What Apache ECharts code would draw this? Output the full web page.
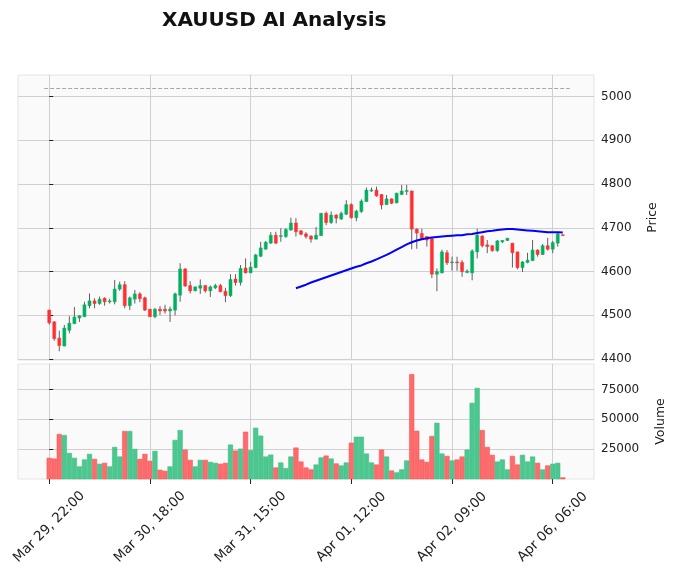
<!DOCTYPE html>
<html>
<head>
<meta charset="utf-8">
<script src="https://cdn.jsdelivr.net/npm/echarts@6/dist/echarts.min.js"></script>
<style>
  html, body { margin: 0; padding: 0; background: #fff; }
  #chart { width: 677px; height: 577px; }
</style>
</head>
<body>
<div id="chart"></div>
<script>
// hourly XAUUSD bars
const opens = [4512, 4485, 4448, 4430, 4466, 4481, 4494, 4497, 4522, 4533,
  4527, 4539, 4531, 4531, 4560, 4570, 4522, 4537, 4549, 4540,
  4514, 4497, 4514, 4514, 4510, 4512, 4546, 4606, 4568, 4556,
  4562, 4568, 4556, 4563, 4568, 4555, 4545, 4583, 4575, 4608,
  4597, 4609, 4635, 4651, 4665, 4683, 4681, 4680, 4695, 4711,
  4693, 4686, 4681, 4674, 4682, 4733, 4712, 4729, 4720, 4731,
  4753, 4723, 4737, 4760, 4784, 4786, 4776, 4753, 4766, 4757,
  4776, 4783, 4784, 4697, 4687, 4680, 4675, 4594, 4597, 4643,
  4621, 4622, 4621, 4598, 4597, 4645, 4681, 4661, 4659, 4648,
  4668, 4671, 4665, 4645, 4609, 4621, 4625, 4649, 4639, 4659,
  4651, 4665, 4684];
const closes = [4483, 4447, 4431, 4471, 4482, 4496, 4499, 4524, 4533, 4527,
  4537, 4531, 4533, 4560, 4570, 4522, 4540, 4549, 4538, 4512,
  4497, 4514, 4510, 4510, 4514, 4549, 4606, 4567, 4556, 4565,
  4568, 4556, 4565, 4568, 4554, 4545, 4582, 4575, 4607, 4597,
  4610, 4638, 4654, 4667, 4683, 4665, 4682, 4696, 4711, 4691,
  4685, 4680, 4674, 4683, 4733, 4712, 4729, 4722, 4733, 4753,
  4723, 4738, 4761, 4786, 4786, 4773, 4752, 4766, 4756, 4779,
  4784, 4785, 4697, 4688, 4675, 4672, 4594, 4600, 4645, 4620,
  4622, 4620, 4600, 4601, 4647, 4683, 4659, 4657, 4648, 4670,
  4671, 4676, 4643, 4609, 4622, 4626, 4649, 4639, 4659, 4651,
  4666, 4686, 4683];
const lows = [4479, 4442, 4418, 4429, 4459, 4480, 4485, 4496, 4516, 4516,
  4524, 4522, 4527, 4525, 4556, 4516, 4512, 4527, 4530, 4510,
  4497, 4493, 4501, 4504, 4485, 4500, 4531, 4565, 4550, 4555,
  4549, 4552, 4542, 4560, 4553, 4530, 4542, 4568, 4568, 4596,
  4597, 4608, 4633, 4651, 4663, 4663, 4668, 4677, 4693, 4680,
  4683, 4675, 4666, 4674, 4681, 4706, 4709, 4710, 4718, 4729,
  4721, 4715, 4734, 4759, 4782, 4771, 4742, 4752, 4754, 4756,
  4775, 4775, 4651, 4652, 4674, 4657, 4585, 4555, 4596, 4615,
  4602, 4602, 4588, 4596, 4580, 4630, 4655, 4642, 4645, 4645,
  4665, 4670, 4609, 4605, 4599, 4619, 4624, 4634, 4638, 4648,
  4642, 4657, 4681];
const highs = [4513, 4487, 4465, 4478, 4498, 4519, 4500, 4531, 4550, 4539,
  4543, 4541, 4538, 4581, 4577, 4578, 4543, 4558, 4553, 4543,
  4514, 4517, 4521, 4524, 4520, 4552, 4619, 4608, 4578, 4566,
  4582, 4569, 4568, 4572, 4572, 4563, 4594, 4594, 4615, 4630,
  4622, 4640, 4668, 4670, 4690, 4691, 4699, 4699, 4723, 4722,
  4695, 4690, 4683, 4702, 4734, 4737, 4737, 4731, 4737, 4763,
  4756, 4741, 4765, 4792, 4792, 4794, 4777, 4775, 4767, 4780,
  4798, 4798, 4785, 4699, 4698, 4681, 4677, 4607, 4650, 4649,
  4634, 4634, 4626, 4605, 4651, 4698, 4683, 4672, 4660, 4672,
  4672, 4677, 4665, 4645, 4624, 4643, 4672, 4651, 4663, 4677,
  4670, 4690, 4685];
const volumes = [17500, 16900, 37500, 36600, 21600, 17500, 10300, 16100, 20800, 16600,
  12500, 13300, 10300, 26600, 18600, 40000, 40000, 25000, 16600, 20800,
  15000, 23300, 7500, 6600, 10300, 32500, 40800, 24400, 15800, 10300,
  15800, 15800, 14100, 13300, 12500, 13300, 28600, 23600, 25200, 39400,
  23900, 42700, 36100, 18600, 20200, 9400, 13600, 8900, 18600, 26100,
  14400, 9400, 7800, 11900, 17800, 19400, 16900, 12800, 11100, 13600,
  30200, 35200, 35200, 21100, 13600, 11900, 24400, 18600, 6900, 5300,
  7800, 15300, 87700, 40200, 16100, 14100, 35800, 46900, 21100, 19100,
  15300, 16100, 18600, 24400, 63600, 76100, 40800, 26600, 20000, 14400,
  16100, 7800, 19100, 11900, 20000, 14400, 18600, 13300, 7800, 11100,
  12500, 13300, 1100];

// moving average (blue), first value sits on bar 49
const maStart = 49;
const maValues = [4562, 4566, 4570, 4575, 4579, 4583, 4587, 4591, 4595, 4599,
  4603, 4607, 4611, 4614, 4619, 4623, 4628, 4633, 4638, 4644,
  4650, 4656, 4662, 4667, 4671, 4674, 4676, 4678, 4679, 4680,
  4681, 4682, 4683, 4683, 4685, 4686, 4688, 4690, 4692, 4693,
  4695, 4696, 4697, 4697, 4696, 4695, 4694, 4693, 4692, 4691,
  4690, 4690, 4690, 4689];

const refLevel = 5018;

const tickIndex = [0, 20, 40, 60, 80, 100];
const tickLabels = ['Mar 29, 22:00', 'Mar 30, 18:00', 'Mar 31, 15:00',
  'Apr 01, 12:00', 'Apr 02, 09:00', 'Apr 06, 06:00'];
const priceTicks = [4400, 4500, 4600, 4700, 4800, 4900, 5000];
const volumeTicks = [25000, 50000, 75000];

const UP = '#00b060';
const DOWN = '#fe3032';
const WICK = '#606060';
const VOL_UP = '#4dc790';
const VOL_DOWN = '#fd6b6c';
const FONT = 'DejaVu Sans';

const n = opens.length;
const candleData = opens.map((o, i) => [i, o, closes[i], lows[i], highs[i]]);
const volData = volumes.map((v, i) => [i, v, closes[i] >= opens[i] ? 1 : 0]);
const maData = maValues.map((v, i) => [maStart + i, v]);

function renderCandle(params, api) {
  const x = api.value(0);
  const o = api.value(1);
  const c = api.value(2);
  const pLow = api.coord([x, api.value(3)]);
  const pHigh = api.coord([x, api.value(4)]);
  const pO = api.coord([x, o]);
  const pC = api.coord([x, c]);
  const w = api.size([1, 0])[0] * 0.6;
  const color = c >= o ? UP : DOWN;
  const top = Math.min(pO[1], pC[1]);
  const h = Math.max(Math.abs(pO[1] - pC[1]), 0.8);
  return {
    type: 'group',
    children: [
      { type: 'line', shape: { x1: pHigh[0], y1: pHigh[1], x2: pLow[0], y2: pLow[1] },
        style: { stroke: WICK, lineWidth: 1 } },
      { type: 'rect', shape: { x: pO[0] - w / 2, y: top, width: w, height: h },
        style: { fill: color, stroke: color, lineWidth: 0.5 } }
    ]
  };
}

function renderVolume(params, api) {
  const x = api.value(0);
  const pTop = api.coord([x, api.value(1)]);
  const pBase = api.coord([x, 0]);
  const w = api.size([1, 0])[0] * 0.9;
  const up = api.value(2) === 1;
  return {
    type: 'rect',
    shape: { x: pTop[0] - w / 2, y: pTop[1], width: w, height: pBase[1] - pTop[1] },
    style: { fill: up ? VOL_UP : VOL_DOWN, stroke: up ? '#3fbf85' : '#f45a5b', lineWidth: 0.6 }
  };
}

function xAxisFor(gridIndex, withLabels) {
  return {
    type: 'value',
    gridIndex: gridIndex,
    min: -6.2,
    max: 108.2,
    axisLine: { show: false },
    axisTick: { show: withLabels, customValues: tickIndex, length: 5, lineStyle: { color: '#222' } },
    axisLabel: {
      show: withLabels,
      customValues: tickIndex,
      formatter: v => tickLabels[tickIndex.indexOf(v)],
      rotate: 45,
      align: 'center',
      verticalAlign: 'middle',
      margin: 48,
      fontSize: 13.5,
      fontFamily: FONT,
      color: '#222'
    },
    splitLine: { show: true, lineStyle: { color: '#d0d0d0', width: 1 } }
  };
}

function yAxisFor(gridIndex, name, min, max, ticks, gap) {
  return {
    type: 'value',
    gridIndex: gridIndex,
    position: 'right',
    min: min,
    max: max,
    name: name,
    nameLocation: 'middle',
    nameRotate: 90,
    nameGap: gap,
    nameTextStyle: { fontSize: 12.5, fontFamily: FONT, color: '#222' },
    axisLine: { show: false },
    axisTick: { show: true, customValues: ticks, length: 4, lineStyle: { color: '#222' } },
    axisLabel: {
      customValues: ticks,
      formatter: v => String(v),
      margin: 7,
      fontSize: 12,
      fontFamily: FONT,
      color: '#222'
    },
    splitLine: { show: true, lineStyle: { color: '#d0d0d0', width: 1 } }
  };
}

const chart = echarts.init(document.getElementById('chart'), null, { renderer: 'canvas' });
chart.setOption({
  animation: false,
  backgroundColor: '#ffffff',
  title: {
    text: 'XAUUSD AI Analysis',
    left: 157,
    top: 6,
    textStyle: { fontSize: 20, fontWeight: 'bold', fontFamily: FONT, color: '#111' }
  },
  grid: [
    { left: 18, top: 75, width: 576, height: 285, show: true, backgroundColor: '#fafafa', borderColor: '#e4e4e4', borderWidth: 1 },
    { left: 18, top: 364, width: 576, height: 115, show: true, backgroundColor: '#fafafa', borderColor: '#e4e4e4', borderWidth: 1 }
  ],
  xAxis: [xAxisFor(0, false), xAxisFor(1, true)],
  yAxis: [
    yAxisFor(0, 'Price', 4398, 5049, priceTicks, 52),
    yAxisFor(1, 'Volume', 0, 96400, volumeTicks, 60)
  ],
  series: [
    {
      type: 'custom',
      name: 'candles',
      xAxisIndex: 0,
      yAxisIndex: 0,
      encode: { x: 0, y: [1, 2, 3, 4] },
      renderItem: renderCandle,
      data: candleData
    },
    {
      type: 'line',
      name: 'MA',
      xAxisIndex: 0,
      yAxisIndex: 0,
      data: maData,
      symbol: 'none',
      lineStyle: { color: '#0000ff', width: 2 },
      markLine: {
        silent: true,
        symbol: 'none',
        label: { show: false },
        lineStyle: { color: '#a8a8a8', type: [4, 2], width: 1 },
        data: [[{ coord: [-1, refLevel] }, { coord: [n + 0.4, refLevel] }]]
      }
    },
    {
      type: 'custom',
      name: 'volume',
      xAxisIndex: 1,
      yAxisIndex: 1,
      encode: { x: 0, y: 1 },
      renderItem: renderVolume,
      data: volData
    }
  ]
});
</script>
</body>
</html>
